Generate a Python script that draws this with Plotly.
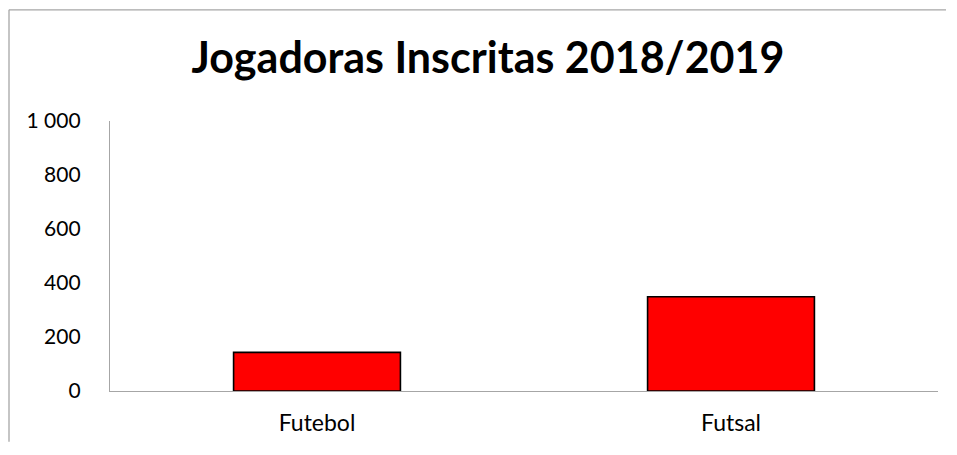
import plotly.graph_objects as go

categories = ["Futebol", "Futsal"]
players = [143, 349]
y_ticks = [0, 200, 400, 600, 800, 1000]

FONT = "Lato, Calibri, sans-serif"

W, H = 941, 439
L, R, T, B = 102, 11, 113, 54
PW, PH = W - L - R, H - T - B

fig = go.Figure(
    go.Bar(
        x=categories,
        y=players,
        marker=dict(color="#ff0000", line=dict(color="#000000", width=1.6)),
        showlegend=False,
    )
)

# moldura do gráfico (estilo Excel): arestas esquerda e superior, bem dentro da figura
frame_left = -(L - 1) / PW
frame_top = (PH + T - 1) / PH
frame_right = (PW + R - 3) / PW
frame_bottom = -(B - 3) / PH
frame_line = dict(color="#a6a6a6", width=1.3)
fig.add_shape(type="line", xref="paper", yref="paper",
              x0=frame_left, x1=frame_left, y0=frame_bottom, y1=frame_top, line=frame_line)
fig.add_shape(type="line", xref="paper", yref="paper",
              x0=frame_left, x1=frame_right, y0=frame_top, y1=frame_top, line=frame_line)

fig.update_layout(
    width=W,
    height=H,
    margin=dict(l=L, r=R, t=T, b=B),
    paper_bgcolor="white",
    plot_bgcolor="white",
    separators=", ",
    bargap=0.597,
    font=dict(family=FONT, size=21, color="#000000"),
    title=dict(
        text="<b>Jogadoras Inscritas 2018/2019</b>",
        x=480 / W, xanchor="center",
        y=1 - 50 / H, yanchor="middle",
        font=dict(family=FONT, size=43, color="#000000"),
    ),
)
fig.update_xaxes(
    range=[-0.5, 1.5],
    showline=True, linecolor="#a6a6a6", linewidth=1.3,
    showgrid=False, ticks="", ticklabelstandoff=11,
    tickfont=dict(size=23),
)
fig.update_yaxes(
    range=[0, 1000],
    tickvals=y_ticks, tickformat=",d",
    showline=True, linecolor="#a6a6a6", linewidth=1.3,
    showgrid=False, zeroline=False, ticks="", ticklabelstandoff=24,
)

fig.write_html("out.html")
